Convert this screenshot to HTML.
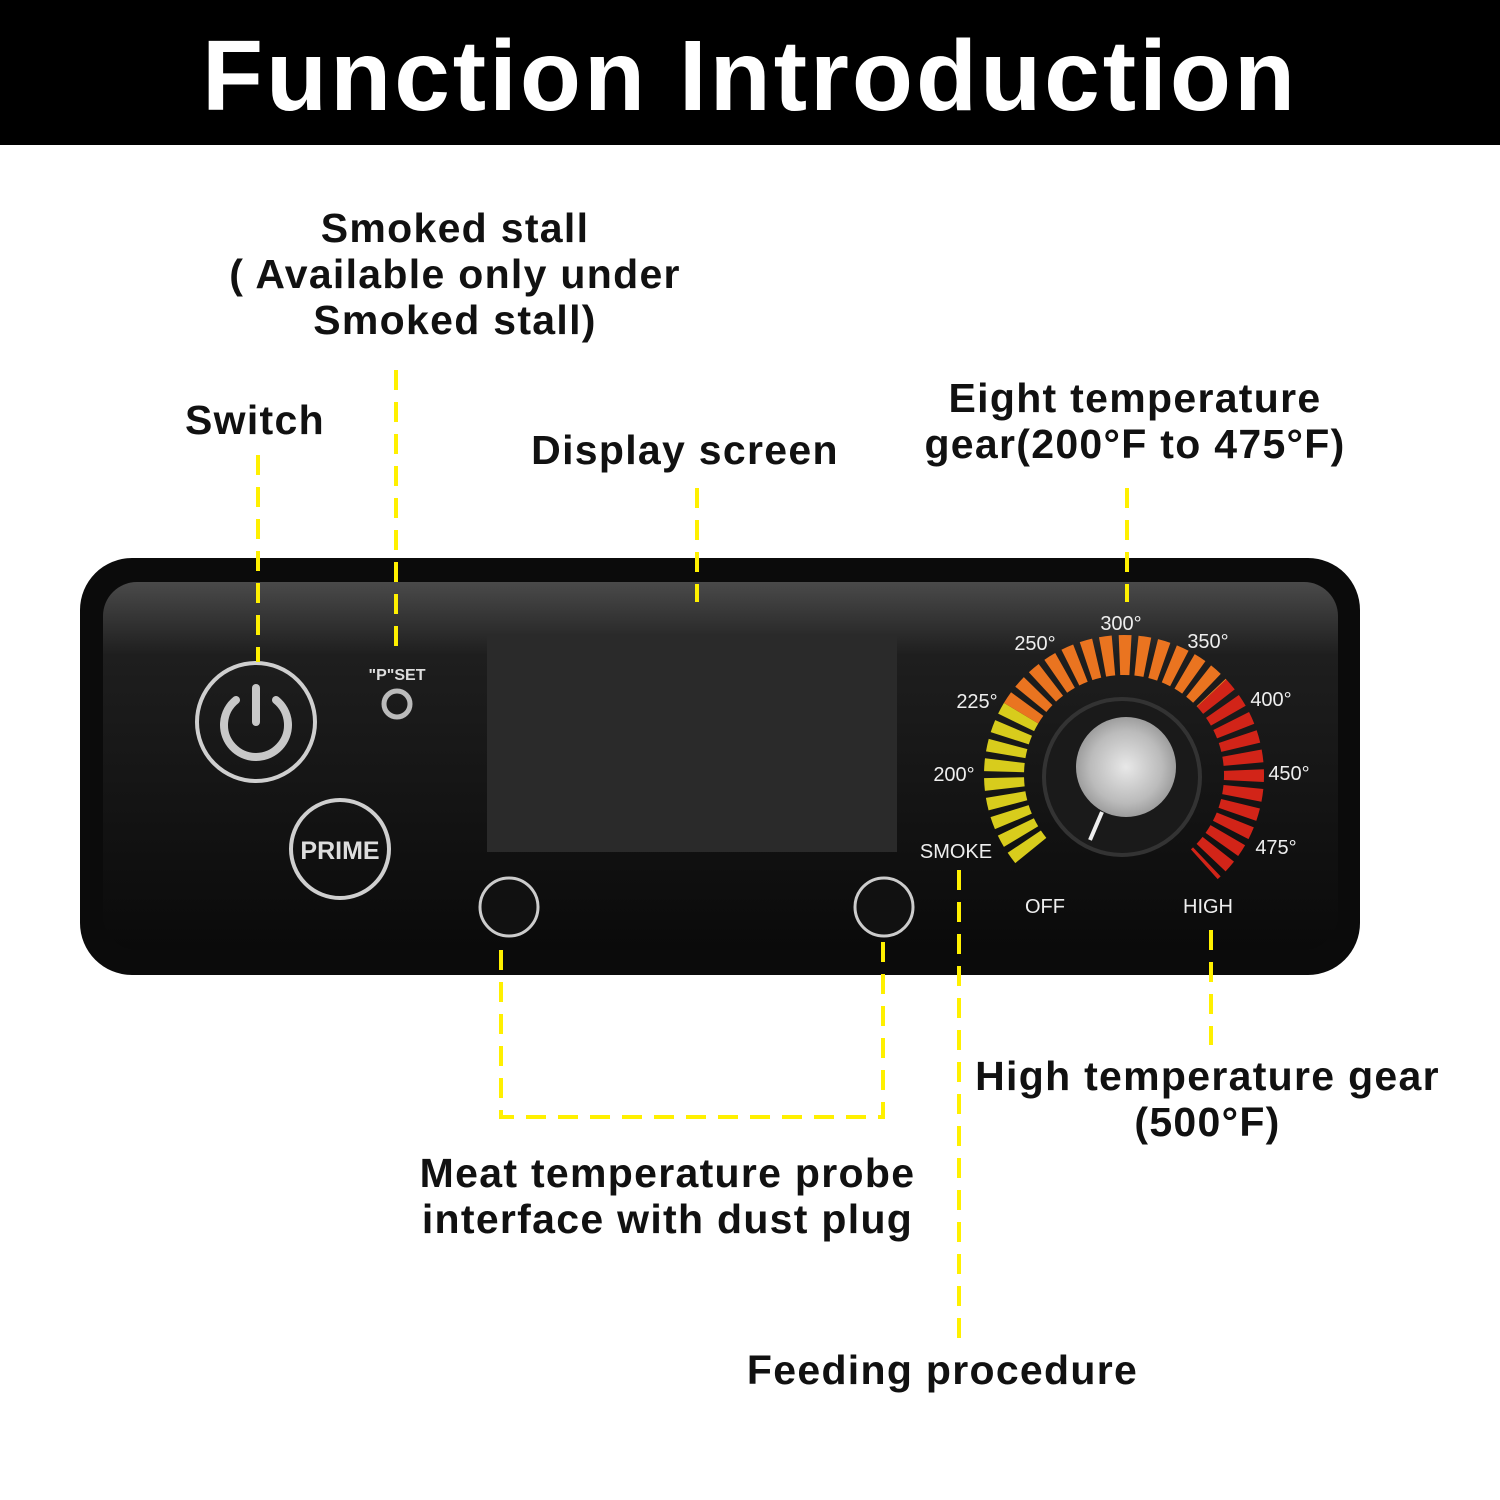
<!DOCTYPE html>
<html><head><meta charset="utf-8"><style>
html,body{margin:0;padding:0;background:#fff;}
body{width:1500px;height:1500px;position:relative;overflow:hidden;font-family:"Liberation Sans",sans-serif;}
.hdr{position:absolute;left:0;top:0;width:1500px;height:145px;background:#000;color:#fff;font-weight:bold;font-size:100px;text-align:center;line-height:152px;letter-spacing:3px;}
.lb{position:absolute;font-weight:bold;font-size:41px;color:#111;text-align:center;line-height:46px;white-space:nowrap;letter-spacing:1.3px;}
svg{position:absolute;left:0;top:0;}
</style></head><body>
<div class="hdr">Function Introduction</div>
<svg width="1500" height="1500" viewBox="0 0 1500 1500">
<defs>
<linearGradient id="face" x1="0" y1="0" x2="0" y2="1">
<stop offset="0" stop-color="#4a4a4a"/><stop offset="0.2" stop-color="#1e1e1e"/><stop offset="1" stop-color="#0a0a0a"/>
</linearGradient>
<radialGradient id="silver" cx="0.5" cy="0.5" r="0.6">
<stop offset="0" stop-color="#e8e8e8"/><stop offset="0.6" stop-color="#bbb"/><stop offset="1" stop-color="#888"/>
</radialGradient>
</defs>
<rect x="80" y="558" width="1280" height="417" rx="52" fill="#0b0b0b"/>
<rect x="103" y="582" width="1235" height="368" rx="34" fill="url(#face)"/>
<rect x="487" y="636" width="410" height="216" fill="#2a2a2a"/>
<circle cx="256" cy="722" r="59" fill="none" stroke="#cfcfcf" stroke-width="4"/>
<path d="M236 700 A32 32 0 1 0 276 700" fill="none" stroke="#c8c8c8" stroke-width="8" stroke-linecap="round"/>
<line x1="256" y1="688" x2="256" y2="722" stroke="#c8c8c8" stroke-width="8" stroke-linecap="round"/>
<circle cx="340" cy="849" r="49" fill="none" stroke="#cfcfcf" stroke-width="4"/>
<text x="340" y="859" font-size="25" font-weight="bold" fill="#ddd" text-anchor="middle">PRIME</text>
<text x="397" y="680" font-size="16" font-weight="bold" fill="#ddd" text-anchor="middle">"P"SET</text>
<circle cx="397" cy="704" r="13" fill="none" stroke="#bbb" stroke-width="5"/>
<circle cx="509" cy="907" r="29" fill="#111" stroke="#ccc" stroke-width="3"/>
<circle cx="884" cy="907" r="29" fill="#111" stroke="#ccc" stroke-width="3"/>
<path d="M1030.8 850.5 A120 120 0 0 1 1021.1 713.2" fill="none" stroke="#d8cc1c" stroke-width="40" stroke-dasharray="11 6"/>
<path d="M1021.1 713.2 A120 120 0 0 1 1211.8 693.2" fill="none" stroke="#ea7420" stroke-width="40" stroke-dasharray="11 6"/>
<path d="M1211.8 693.2 A120 120 0 0 1 1204.3 864.2" fill="none" stroke="#d22418" stroke-width="40" stroke-dasharray="11 6"/>
<circle cx="1122" cy="777" r="78" fill="#1a1a1a" stroke="#333" stroke-width="4"/>
<circle cx="1126" cy="767" r="50" fill="url(#silver)"/>
<line x1="1102" y1="812" x2="1090" y2="840" stroke="#eee" stroke-width="4"/>
<g font-size="20" fill="#eee" text-anchor="middle">
<text x="1121" y="630">300°</text><text x="1035" y="650">250°</text><text x="1208" y="648">350°</text>
<text x="977" y="708">225°</text><text x="1271" y="706">400°</text>
<text x="954" y="781">200°</text><text x="1289" y="780">450°</text>
<text x="1276" y="854">475°</text><text x="956" y="858">SMOKE</text>
<text x="1045" y="913">OFF</text><text x="1208" y="913">HIGH</text>
</g>
<g stroke="#fff000" stroke-width="4" fill="none" stroke-dasharray="20 12">
<line x1="258" y1="455" x2="258" y2="662"/>
<line x1="396" y1="370" x2="396" y2="650"/>
<line x1="697" y1="488" x2="697" y2="602"/>
<line x1="1127" y1="488" x2="1127" y2="602"/>
<polyline points="501,950 501,1117 883,1117 883,930"/>
<line x1="959" y1="870" x2="959" y2="1340"/>
<line x1="1211" y1="930" x2="1211" y2="1045"/>
</g>
</svg>
<div class="lb" style="left:190px;top:205px;width:530px;">Smoked stall<br>( Available only under<br>Smoked stall)</div>
<div class="lb" style="left:150px;top:397px;width:210px;">Switch</div>
<div class="lb" style="left:500px;top:427px;width:370px;">Display screen</div>
<div class="lb" style="left:900px;top:375px;width:470px;">Eight temperature<br>gear(200°F to 475°F)</div>
<div class="lb" style="left:960px;top:1053px;width:495px;">High temperature gear<br>(500°F)</div>
<div class="lb" style="left:390px;top:1150px;width:555px;">Meat temperature probe<br>interface with dust plug</div>
<div class="lb" style="left:730px;top:1347px;width:425px;">Feeding procedure</div>
</body></html>
